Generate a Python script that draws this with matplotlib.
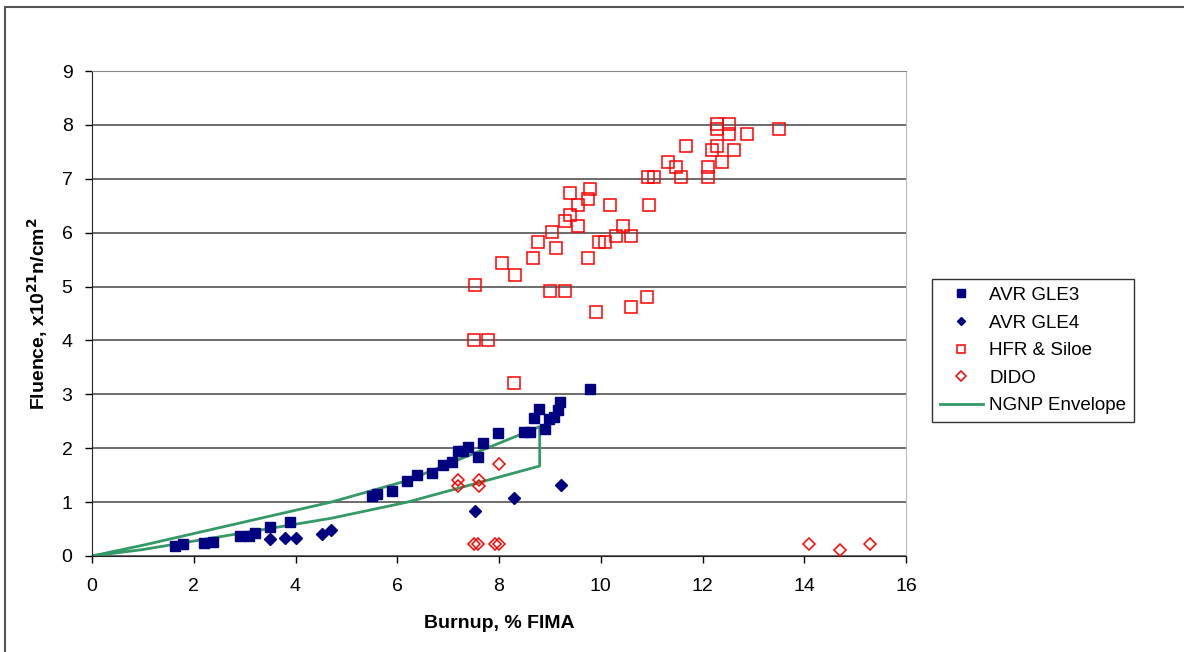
import matplotlib.pyplot as plt
from matplotlib.patches import Rectangle

plt.rcParams['font.family'] = ['Liberation Sans', 'DejaVu Sans']

# AVR GLE3 (filled squares)
gle3_x = [1.63, 1.79, 2.2, 2.38, 2.9, 3.09, 3.2, 3.5, 3.89, 5.5, 5.6, 5.89, 6.19,
          6.39, 6.68, 6.9, 7.07, 7.19, 7.29, 7.39, 7.58, 7.68, 7.98, 8.49, 8.6,
          8.68, 8.78, 8.9, 8.98, 9.08, 9.16, 9.2, 9.78]
gle3_y = [0.19, 0.22, 0.24, 0.26, 0.37, 0.37, 0.43, 0.54, 0.63, 1.11, 1.15, 1.21, 1.4,
          1.5, 1.54, 1.69, 1.74, 1.95, 1.95, 2.02, 1.84, 2.1, 2.28, 2.3, 2.3,
          2.56, 2.73, 2.35, 2.54, 2.58, 2.71, 2.85, 3.09]

# AVR GLE4 (filled diamonds)
gle4_x = [3.5, 3.8, 4.0, 4.52, 4.7, 7.52, 8.3, 9.21]
gle4_y = [0.32, 0.34, 0.34, 0.41, 0.48, 0.83, 1.08, 1.32]

# HFR & Siloe (open squares)
hfr_x = [12.28, 12.53, 12.28, 12.53, 11.67, 12.28, 12.18, 12.61, 11.32, 12.38,
         11.47, 12.1, 10.92, 11.04, 11.57, 12.1, 9.39, 9.78, 9.55, 9.74, 10.18,
         10.94, 9.39, 9.29, 9.55, 10.43, 9.04, 8.76, 9.12, 9.96, 10.08, 10.29,
         10.59, 8.66, 9.74, 8.06, 8.31, 7.52, 9.0, 9.29, 10.9, 10.59, 9.9, 7.5,
         7.78, 13.5, 12.87, 8.29]
hfr_y = [8.01, 8.01, 7.92, 7.83, 7.61, 7.61, 7.53, 7.53, 7.31, 7.31,
         7.22, 7.22, 7.03, 7.03, 7.03, 7.03, 6.73, 6.81, 6.51, 6.62, 6.51,
         6.51, 6.33, 6.22, 6.12, 6.12, 6.01, 5.83, 5.71, 5.83, 5.83, 5.94,
         5.94, 5.53, 5.53, 5.44, 5.21, 5.03, 4.92, 4.92, 4.81, 4.62, 4.53, 4.0,
         4.0, 7.92, 7.83, 3.21]

# DIDO (open diamonds)
dido_x = [7.2, 7.2, 7.6, 7.6, 8.0, 7.5, 7.58, 7.92, 8.0, 14.1, 14.7, 15.3]
dido_y = [1.41, 1.3, 1.41, 1.3, 1.71, 0.22, 0.22, 0.22, 0.22, 0.22, 0.11, 0.22]

# NGNP envelope: upper branch out, vertical drop, lower branch back
env_x = [0, 1.0, 4.7, 6.2, 8.8, 8.8, 6.2, 4.7, 1.0, 0]
env_y = [0, 0.2, 1.0, 1.4, 2.4, 1.67, 1.0, 0.7, 0.12, 0]

navy = '#000080'
red = '#FF0000'
green = '#339966'

fig = plt.figure(figsize=(11.84, 6.52), dpi=100)
fig.patches.append(Rectangle((5 / 1184, -0.1), 1.2, 1.1 - 7 / 652,
                             transform=fig.transFigure, fill=False,
                             edgecolor='#555555', linewidth=1.5))
ax = fig.add_axes([92 / 1184, 1 - 556 / 652, (906 - 92) / 1184, (556 - 71) / 652])

ax.plot(gle3_x, gle3_y, 's', color=navy, markersize=7, label='AVR GLE3', zorder=3)
ax.plot(gle4_x, gle4_y, 'D', color=navy, markersize=6, label='AVR GLE4', zorder=3)
ax.plot(hfr_x, hfr_y, 's', mfc='none', mec=red, mew=1.1, markersize=8,
        label='HFR & Siloe', zorder=3)
ax.plot(dido_x, dido_y, 'D', mfc='none', mec=red, mew=1.1, markersize=6.5,
        label='DIDO', zorder=3)
ax.plot(env_x, env_y, '-', color=green, linewidth=2, label='NGNP Envelope', zorder=2)

ax.set_xlim(0, 16)
ax.set_ylim(0, 9)
ax.set_xticks(range(0, 17, 2))
ax.set_yticks(range(0, 10))
ax.yaxis.grid(True, color='#444444', linewidth=1.1)
ax.set_axisbelow(True)
ax.tick_params(labelsize=14, direction='out', length=5, width=1)
ax.tick_params(axis='x', pad=11)
ax.tick_params(axis='y', pad=9)
for s in ['left', 'bottom']:
    ax.spines[s].set_color('#222222')
ax.spines['top'].set_color('#888888')
ax.spines['right'].set_color('#bbbbbb')

ax.set_xlabel('Burnup, % FIMA', fontsize=14, fontweight='bold', labelpad=14)
ax.set_ylabel('Fluence, x10$^{\\mathbf{21}}$n/cm$^{\\mathbf{2}}$', fontsize=14,
              fontweight='bold', labelpad=8)

leg = ax.legend(loc='lower left', bbox_to_anchor=(932 / 1184, 1 - 422 / 652),
                bbox_transform=fig.transFigure, borderaxespad=0,
                fontsize=13.5, frameon=True, markerscale=0.75,
                fancybox=False, edgecolor='black', handlelength=2.3,
                handletextpad=0.35, borderpad=0.4, labelspacing=0.56)
leg.get_frame().set_linewidth(1)

fig.savefig('out.png', dpi=100)
